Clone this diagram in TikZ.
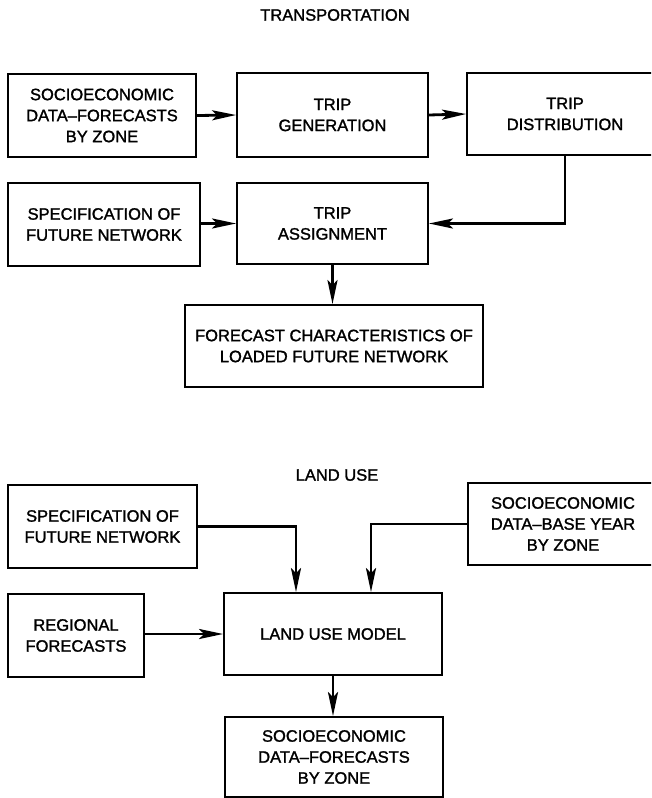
\documentclass[tikz,border=0pt]{standalone}
\usepackage{fontspec}
\setmainfont{Liberation Sans}
\newfontfamily\labelfont{Liberation Sans}[FakeBold=1.5]
\usetikzlibrary{arrows.meta}
\begin{document}
\begin{tikzpicture}[x=1pt,y=-1pt,
  every node/.style={font=\labelfont\fontsize{16.5}{21}\selectfont},
  box/.style={draw, line width=1.8pt, inner sep=0pt, align=center},
  heading/.style={inner sep=0pt},
  conn/.style={line width=2.8pt, -{Stealth[length=24pt,width=10pt,inset=5pt]}}]
\clip (0,0) rectangle (651,798);
\useasboundingbox (0,0) rectangle (651,798);

% --- transportation model ---
\node[heading] (t1) at (335,15) {TRANSPORTATION};
\node[box, minimum width=188pt, minimum height=83pt] (A) at (102,115.5)
  {SOCIOECONOMIC\\DATA–FORECASTS\\BY ZONE};
\node[box, minimum width=191pt, minimum height=84pt] (B) at (332.5,115)
  {TRIP\\GENERATION};
\node[box, minimum width=196pt, minimum height=82pt] (C) at (565,114)
  {TRIP\\DISTRIBUTION};
\node[box, minimum width=192pt, minimum height=83pt] (D) at (104,224.5)
  {SPECIFICATION OF\\FUTURE NETWORK};
\node[box, minimum width=191pt, minimum height=81pt] (E) at (332.5,223.5)
  {TRIP\\ASSIGNMENT};
\node[box, minimum width=298pt, minimum height=82pt] (F) at (334,346)
  {FORECAST CHARACTERISTICS OF\\LOADED FUTURE NETWORK};

\draw[conn] (A.east) -- (B.west);
\draw[conn] (B.east) -- (C.west);
\draw[conn] (D.east |- E.west) -- (E.west);
\draw[conn] (C.south) |- (E.east);
\draw[conn] (E.south) -- (E.south |- F.north);

% --- land use model ---
\node[heading] (t2) at (337,475) {LAND USE};
\node[box, minimum width=189pt, minimum height=83pt] (G) at (102.5,526.5)
  {SPECIFICATION OF\\FUTURE NETWORK};
\node[box, minimum width=190pt, minimum height=82pt] (H) at (563,524)
  {SOCIOECONOMIC\\DATA–BASE YEAR\\BY ZONE};
\node[box, minimum width=136pt, minimum height=83pt] (J) at (76,635.5)
  {REGIONAL\\FORECASTS};
\node[box, minimum width=218pt, minimum height=82pt] (L) at (333,634)
  {LAND USE MODEL};
\node[box, minimum width=218pt, minimum height=80pt] (I) at (334,757)
  {SOCIOECONOMIC\\DATA–FORECASTS\\BY ZONE};

\coordinate (lin) at ([xshift=-37pt]L.north);
\coordinate (rin) at ([xshift=38pt]L.north);
\draw[conn] (G.east) -| (lin);
\draw[conn] (H.west) -| (rin);
\draw[conn] (J.east |- L.west) -- (L.west);
\draw[conn] (L.south) -- (L.south |- I.north);
\end{tikzpicture}
\end{document}
